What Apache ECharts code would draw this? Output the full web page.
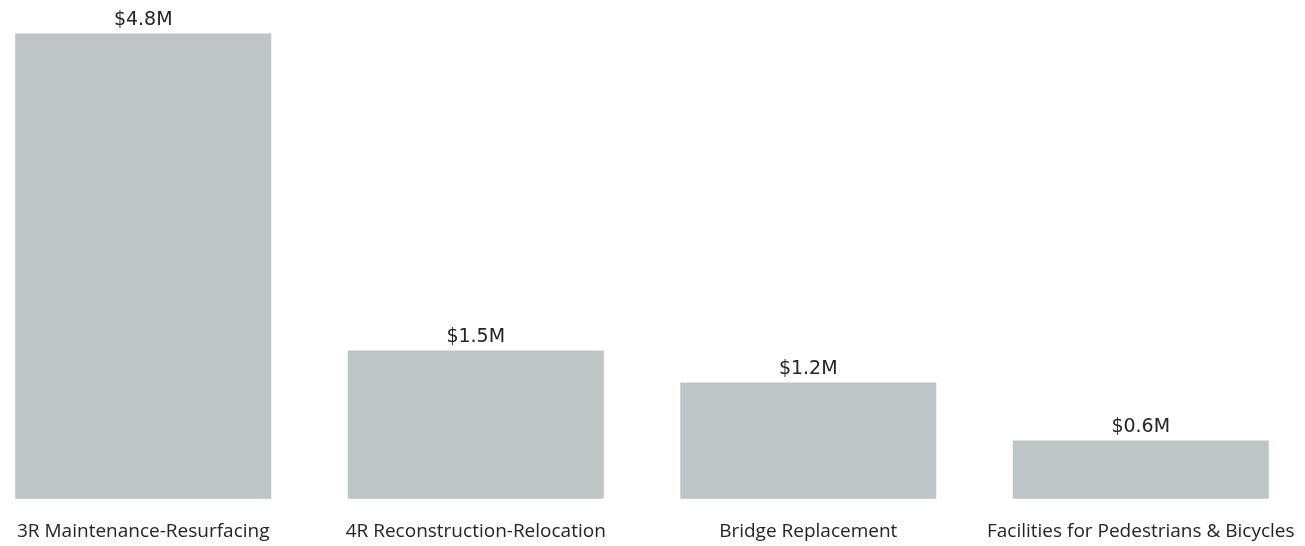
<!DOCTYPE html>
<html>
<head>
<meta charset="utf-8">
<script src="https://cdn.jsdelivr.net/npm/echarts@6/dist/echarts.min.js"></script>
<style>
html,body{margin:0;padding:0;background:#fff;}
#c{width:1305px;height:546px;}
</style>
</head>
<body>
<div id="c"></div>
<script>
const categories = ['3R Maintenance-Resurfacing', '4R Reconstruction-Relocation', 'Bridge Replacement', 'Facilities for Pedestrians & Bicycles'];
const values = [4.8, 1.53, 1.2, 0.6];

const chart = echarts.init(document.getElementById('c'), null, {renderer: 'canvas'});
chart.setOption({
  animation: false,
  grid: {left: -23, width: 1330, top: 33.5, bottom: 47.3, containLabel: false, outerBoundsMode: 'none'},
  xAxis: {
    type: 'category',
    data: categories,
    axisLine: {show: false},
    axisTick: {show: false},
    axisLabel: {
      margin: 23,
      fontSize: 19,
      color: '#252423',
      fontFamily: '"Open Sans", "Noto Sans", sans-serif',
      interval: 0
    }
  },
  yAxis: {
    type: 'value',
    min: 0,
    max: 4.8,
    show: false,
    splitLine: {show: false}
  },
  series: [{
    type: 'bar',
    data: values,
    barWidth: 256,
    itemStyle: {color: '#bfc5c4'},
    label: {
      show: true,
      position: 'top',
      distance: 4,
      fontSize: 19,
      color: '#252423',
      fontFamily: '"DejaVu Sans", sans-serif',
      formatter: p => '$' + p.value.toFixed(1) + 'M'
    }
  }]
});
</script>
</body>
</html>
